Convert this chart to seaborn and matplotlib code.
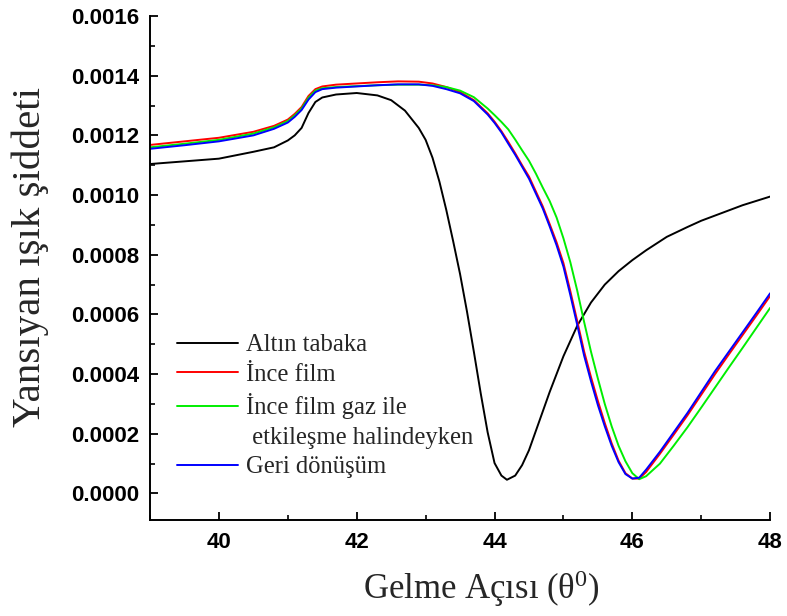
import matplotlib
matplotlib.use("Agg")
import matplotlib.pyplot as plt
from matplotlib.lines import Line2D
from matplotlib.ticker import MultipleLocator, FormatStrFormatter
import pandas as pd
import seaborn as sns

# ---------------- data ----------------
angle_altin = [39.0, 39.5, 40.0, 40.5, 40.8, 41.0, 41.1, 41.2, 41.3, 41.4, 41.5, 41.7,
               42.0, 42.3, 42.5, 42.7, 42.9, 43.0, 43.1, 43.2, 43.3, 43.4, 43.5, 43.6,
               43.7, 43.8, 43.9, 44.0, 44.1, 44.18, 44.3, 44.4, 44.5, 44.6, 44.8, 45.0,
               45.2, 45.4, 45.6, 45.8, 46.0, 46.2, 46.5, 46.8, 47.0, 47.3, 47.6, 48.0]
altin = [0.001104, 0.001113, 0.001122, 0.001145, 0.001160, 0.001183, 0.001200, 0.001225,
         0.001275, 0.001312, 0.001327, 0.001337, 0.001342, 0.001334, 0.001318, 0.001283,
         0.001225, 0.001185, 0.001125, 0.001045, 0.000950, 0.000845, 0.000735, 0.000610,
         0.000475, 0.000335, 0.000205, 0.000102, 0.000060, 0.000046, 0.000060, 0.000095,
         0.000145, 0.000210, 0.000340, 0.000460, 0.000562, 0.000640, 0.000700, 0.000745,
         0.000782, 0.000815, 0.000860, 0.000893, 0.000914, 0.000940, 0.000966, 0.000995]

angle_film = [39.0, 39.5, 40.0, 40.5, 40.8, 41.0, 41.1, 41.2, 41.3, 41.4, 41.5, 41.7,
              42.0, 42.3, 42.6, 42.9, 43.1, 43.3, 43.5, 43.7, 43.9,
              44.0, 44.1, 44.2, 44.3, 44.4, 44.5, 44.6, 44.7, 44.8, 44.9, 45.0, 45.1,
              45.2, 45.3, 45.4, 45.5, 45.6, 45.7, 45.8, 45.9, 46.0, 46.1, 46.2,
              46.4, 46.6, 46.8, 47.0, 47.2, 47.4, 47.6, 47.8, 48.0]

ince_film = [0.001168, 0.001180, 0.001192, 0.001212, 0.001232, 0.001253, 0.001272, 0.001295,
             0.001332, 0.001355, 0.001364, 0.001370, 0.001374, 0.001378, 0.001381, 0.001380,
             0.001374, 0.001362, 0.001345, 0.001318, 0.001274,
             0.001246, 0.001214, 0.001178, 0.001140, 0.001100, 0.001062, 0.001012, 0.000962,
             0.000903, 0.000842, 0.000772, 0.000678, 0.000578, 0.000476, 0.000390, 0.000310,
             0.000236, 0.000168, 0.000110, 0.000068, 0.000050, 0.000050, 0.000072,
             0.000133, 0.000197, 0.000262, 0.000331, 0.000400, 0.000466, 0.000531, 0.000596,
             0.000662]

gaz = [0.001160, 0.001172, 0.001185, 0.001206, 0.001227, 0.001248, 0.001267, 0.001290,
       0.001326, 0.001350, 0.001358, 0.001362, 0.001365, 0.001368, 0.001370, 0.001370,
       0.001368, 0.001362, 0.001350, 0.001328, 0.001290,
       0.001268, 0.001245, 0.001220, 0.001186, 0.001150, 0.001115, 0.001072, 0.001025,
       0.000980, 0.000925, 0.000855, 0.000775, 0.000680, 0.000575, 0.000475, 0.000385,
       0.000300, 0.000225, 0.000160, 0.000108, 0.000068, 0.000048, 0.000058,
       0.000100, 0.000160, 0.000222, 0.000288, 0.000355, 0.000422, 0.000488, 0.000555,
       0.000622]

geri = [0.001155, 0.001167, 0.001180, 0.001200, 0.001222, 0.001243, 0.001262, 0.001285,
        0.001320, 0.001345, 0.001355, 0.001360, 0.001364, 0.001368, 0.001371, 0.001371,
        0.001366, 0.001355, 0.001341, 0.001315, 0.001270,
        0.001242, 0.001210, 0.001172, 0.001135, 0.001095, 0.001055, 0.001005, 0.000955,
        0.000895, 0.000832, 0.000760, 0.000665, 0.000565, 0.000462, 0.000376, 0.000296,
        0.000225, 0.000160, 0.000105, 0.000065, 0.000050, 0.000053, 0.000080,
        0.000140, 0.000205, 0.000270, 0.000340, 0.000410, 0.000475, 0.000540, 0.000605,
        0.000671]

series_names = ["Altın tabaka", "İnce film", "İnce film gaz ile", "Geri dönüşüm"]
series_angles = [angle_altin, angle_film, angle_film, angle_film]
series_values = [altin, ince_film, gaz, geri]
series_colors = ["#000000", "#ff0000", "#00ee00", "#0000ff"]
legend_labels = ["Altın tabaka", "İnce film", "İnce film gaz ile",
                 " etkileşme halindeyken", "Geri dönüşüm"]

x_label = "Gelme Açısı (θ$^{0}$)"
y_label = "Yansıyan ışık şiddeti"

# ---------------- figure ----------------
sns.set_style("ticks")
plt.rcParams["font.family"] = ["Liberation Sans", "DejaVu Sans"]
plt.rcParams["mathtext.fontset"] = "custom"
plt.rcParams["mathtext.rm"] = "Liberation Serif"
plt.rcParams["mathtext.default"] = "regular"

df = pd.concat(
    [pd.DataFrame({"angle": a, "value": v, "series": n})
     for n, a, v in zip(series_names, series_angles, series_values)],
    ignore_index=True)

fig = plt.figure(figsize=(7.87, 6.16), dpi=100)
ax = fig.add_axes([0.1906, 0.156, 0.788, 0.818])

sns.lineplot(data=df, x="angle", y="value", hue="series",
             hue_order=series_names, palette=dict(zip(series_names, series_colors)),
             estimator=None, sort=False, linewidth=1.4, legend=False, ax=ax)

ax.set_xlim(39, 48)
ax.set_ylim(-0.0000885, 0.0016)
ax.xaxis.set_major_locator(MultipleLocator(2))
ax.xaxis.set_minor_locator(MultipleLocator(1))
ax.yaxis.set_major_locator(MultipleLocator(0.0002))
ax.yaxis.set_minor_locator(MultipleLocator(0.0001))
ax.yaxis.set_major_formatter(FormatStrFormatter("%.4f"))

for s in ["top", "right"]:
    ax.spines[s].set_visible(False)
for s in ["left", "bottom"]:
    ax.spines[s].set_linewidth(1.4)
    ax.spines[s].set_color("black")

ax.tick_params(axis="both", which="major", direction="in", length=6, width=1.3,
               color="black", labelsize=16, labelcolor="black")
ax.tick_params(axis="both", which="minor", direction="in", length=3.5, width=1.2,
               color="black")
ax.tick_params(axis="y", which="major", pad=8)
ax.tick_params(axis="x", which="major", pad=9)
for lab in ax.get_xticklabels() + ax.get_yticklabels():
    lab.set_fontweight("bold")
    lab.set_family(["Liberation Sans", "DejaVu Sans"])

ax.set_xlabel(x_label, family=["Liberation Serif", "DejaVu Serif"], fontsize=25)
ax.set_ylabel(y_label, family=["Liberation Serif", "DejaVu Serif"], fontsize=29.5)
ax.xaxis.set_label_coords(0.535, -0.097)
ax.yaxis.set_label_coords(-0.163, 0.521)

handles = [Line2D([], [], color=series_colors[0], lw=1.4),
           Line2D([], [], color=series_colors[1], lw=1.4),
           Line2D([], [], color=series_colors[2], lw=1.4),
           Line2D([], [], color="none", lw=0),
           Line2D([], [], color=series_colors[3], lw=1.4)]
leg = ax.legend(handles, legend_labels, loc="upper left",
                bbox_to_anchor=(0.043, 0.369), frameon=False,
                prop={"family": ["Liberation Serif", "DejaVu Serif"], "size": 17.7},
                handlelength=2.5, handletextpad=0.32, labelspacing=0.3,
                borderpad=0, borderaxespad=0)

fig.savefig("out.png", dpi=100)
